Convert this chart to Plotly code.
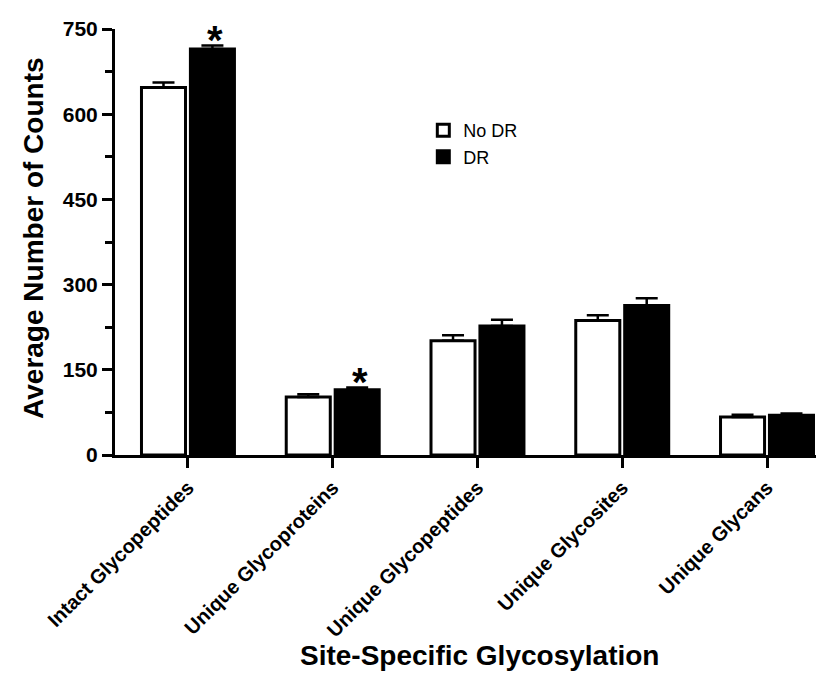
import plotly.graph_objects as go

categories = ["Intact Glycopeptides", "Unique Glycoproteins", "Unique Glycopeptides",
              "Unique Glycosites", "Unique Glycans"]
no_dr = [647, 102, 201, 237, 67]
no_dr_err = [9, 5, 10, 9, 4]
dr = [715, 115, 227, 263, 70]
dr_err = [6, 4, 11, 13, 3]
significant_dr = [True, True, False, False, False]
y_ticks = [0, 150, 300, 450, 600, 750]

FONT = "Arial, Liberation Sans, Helvetica, sans-serif"

fig = go.Figure()
fig.add_trace(go.Bar(
    name="No DR", x=categories, y=no_dr, legendgroup="a",
    marker=dict(color="white", line=dict(color="black", width=3)),
    error_y=dict(type="data", symmetric=False, array=no_dr_err, arrayminus=[0]*5,
                 color="black", thickness=2.5, width=11),
))
fig.add_trace(go.Bar(
    name="DR", x=categories, y=dr, legendgroup="b",
    marker=dict(color="black", line=dict(color="black", width=3)),
    error_y=dict(type="data", symmetric=False, array=dr_err, arrayminus=[0]*5,
                 color="black", thickness=2.5, width=11),
))

annotations = []
for c, v, e, s in zip(categories, dr, dr_err, significant_dr):
    if s:
        annotations.append(dict(x=c, y=v + e, xref="x", yref="y", text="<b>*</b>",
                                showarrow=False, xshift=27, yshift=-19, yanchor="bottom",
                                xanchor="center",
                                font=dict(family=FONT, size=40, color="black")))
annotations.append(dict(x=0.508, y=-0.512, xref="paper", yref="paper",
                        xanchor="center", yanchor="bottom",
                        text="<b>Site-Specific Glycosylation</b>", showarrow=False,
                        font=dict(family=FONT, size=28, color="black")))
annotations.append(dict(x=-0.1147, y=0.509, xref="paper", yref="paper", textangle=-90,
                        xanchor="center", yanchor="middle",
                        text="<b>Average Number of Counts</b>", showarrow=False,
                        font=dict(family=FONT, size=28, color="black")))

fig.update_layout(
    width=824, height=675,
    margin=dict(l=107, r=0, t=21, b=228, autoexpand=False),
    paper_bgcolor="white", plot_bgcolor="white",
    barmode="group", bargap=0.324, bargroupgap=0.1,
    font=dict(family=FONT, color="black"),
    showlegend=True,
    legend=dict(x=0.43, y=0.805, xanchor="left", yanchor="top",
                font=dict(family=FONT, size=18, color="black"),
                bgcolor="rgba(0,0,0,0)", tracegroupgap=8, traceorder="normal"),
    annotations=annotations,
)
fig.update_xaxes(
    range=[-0.504, 4.449], showline=True, linecolor="black", linewidth=3,
    ticks="outside", ticklen=10, tickwidth=3, tickcolor="black",
    tickangle=-45, tickfont=dict(family=FONT, size=20, color="black"),
    tickprefix="<b>", ticksuffix="</b>", showgrid=False, zeroline=False,
)
fig.update_yaxes(
    range=[0, 750], tickvals=y_ticks, ticktext=[f"<b>{t}</b>" for t in y_ticks],
    showline=True, linecolor="black", linewidth=3,
    ticks="outside", ticklen=10, tickwidth=3, tickcolor="black",
    tickfont=dict(family=FONT, size=21, color="black"),
    minor=dict(dtick=75, tick0=0, ticks="outside", ticklen=7, tickwidth=3, tickcolor="black"),
    showgrid=False, zeroline=False,
)
fig.write_html("out.html")
